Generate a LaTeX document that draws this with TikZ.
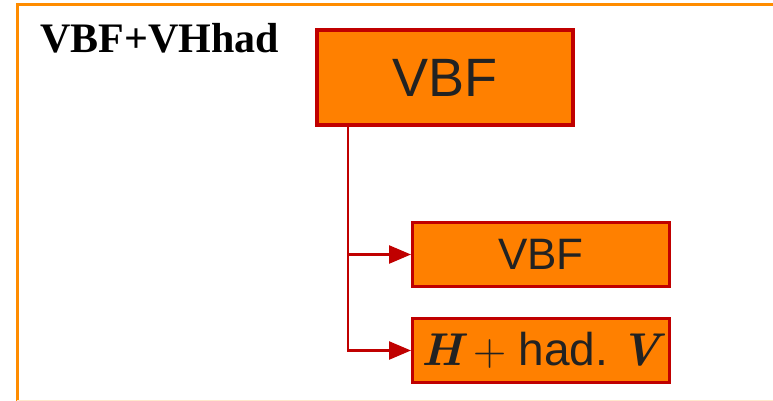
\documentclass[tikz,border=0pt]{standalone}
\usepackage{fontspec}
\setmainfont{Liberation Sans}
\newfontfamily\titlefont{Liberation Serif}
\newfontfamily\lmfont{Latin Modern Roman}
\usetikzlibrary{arrows.meta}
\definecolor{boxfill}{HTML}{FF8000}
\definecolor{boxline}{HTML}{C00000}
\definecolor{frameor}{HTML}{FF8C00}
\definecolor{txt}{HTML}{222222}
\newcommand{\bmvar}[1]{{\lmfont\bfseries\itshape #1}}
\tikzset{
  bigbox/.style={draw=boxline, fill=boxfill, line width=4pt, minimum width=256pt, minimum height=95pt, inner sep=0pt, text=txt, font=\fontsize{54}{60}\selectfont},
  subbox/.style={draw=boxline, fill=boxfill, line width=3pt, minimum width=257pt, minimum height=64pt, inner sep=0pt, text=txt, font=\fontsize{44}{50}\selectfont},
  conn/.style={draw=boxline, line width=2.5pt},
  arr/.style={conn, -{Triangle[length=22pt,width=18pt]}}
}
\begin{document}
\begin{tikzpicture}[x=1pt,y=-1pt]
\useasboundingbox (0,0) rectangle (773,401);
\begin{scope}
\clip (0,0) rectangle (773,401);
\draw[frameor, line width=3pt] (17,401) -- (17,5) -- (790,5);
\draw[frameor!20, line width=1.5pt] (17,400.5) -- (790,400.5);
\end{scope}
\node[anchor=base west, font=\titlefont\bfseries\fontsize{42}{48}\selectfont] (title) at (37,53) {VBF+VHhad};
\node[bigbox] (top) at (445,77.5) {VBF};
\node[subbox] (vbf) at (541,254.5) {VBF};
\node[subbox, font=\fontsize{46}{50}\selectfont] (hv) at (541,350.5) {\bmvar{H}\hspace{0.25em}{\lmfont+}\hspace{0.25em}had.\ \bmvar{V}};
\coordinate (j) at ([xshift=33pt]top.south west);
\draw[conn] (j) -- (j |- hv.west) -- ([xshift=-20pt]hv.west);
\draw[arr] (j |- vbf.west) -- (vbf.west);
\draw[arr] (j |- hv.west) -- (hv.west);
\end{tikzpicture}
\end{document}
